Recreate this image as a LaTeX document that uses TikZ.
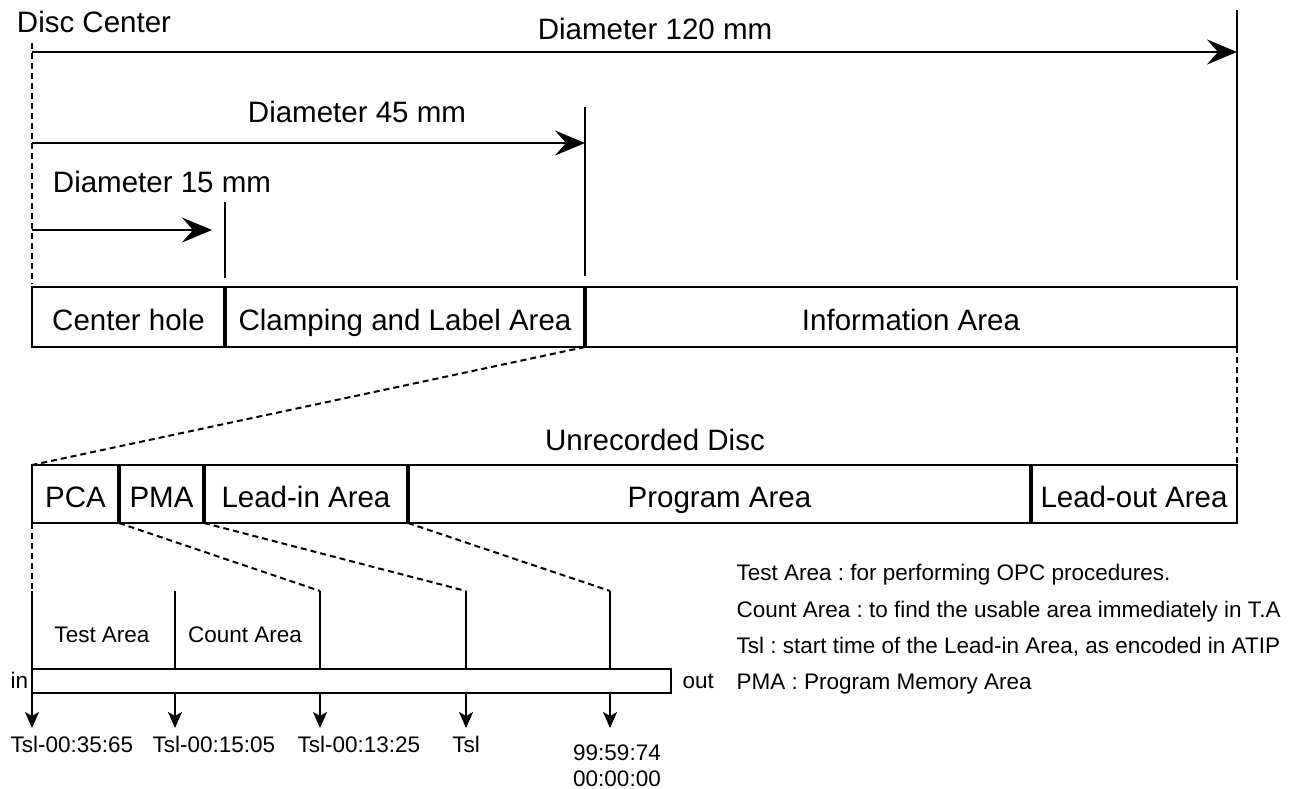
\documentclass[tikz,border=0pt]{standalone}
\usepackage{fontspec}
\setmainfont{Liberation Sans}
\frenchspacing
\usetikzlibrary{arrows.meta}
\tikzset{
  big/.style={font=\fontsize{29.5}{34}\selectfont},
  small/.style={font=\fontsize{22.5}{27}\selectfont},
  seg/.style={draw, line width=2pt, inner sep=0pt, outer sep=0pt, anchor=north west, big,
    text height=26pt, text depth=0pt},
  divider/.style={line width=4pt},
  thinline/.style={line width=2pt},
  guide/.style={line width=2pt, dash pattern=on 6pt off 4pt},
  dimarrow/.style={line width=2.2pt, -{Stealth[length=30pt,width=25pt,inset=11pt]}},
  tarrow/.style={line width=2pt, -{Stealth[length=16pt,width=14pt,inset=4pt]}},
}
\begin{document}
\begin{tikzpicture}[x=1pt, y=-1pt]
  \useasboundingbox (0,0) rectangle (1296,789);

  % diameters
  \node[big, anchor=base] (center) at (94,33) {Disc Center};
  \coordinate (c1) at (32,43);
  \coordinate (c2) at (32,284);
  \draw[guide] (c1) -- (c2);

  \coordinate (v120) at (1237,10);
  \coordinate (v45) at (585,107);
  \coordinate (v15) at (225,202);
  \coordinate (w120) at (1237,280);
  \coordinate (w45) at (585,276);
  \coordinate (w15) at (225,278);
  \draw[thinline] (v120) -- (w120);
  \draw[thinline] (v45) -- (w45);
  \draw[thinline] (v15) -- (w15);

  \coordinate (o120) at (32,52);
  \coordinate (o45) at (32,143);
  \coordinate (o15) at (32,230);
  \coordinate (e15) at (212,230);
  \draw[dimarrow] (o120) -- (v120 |- o120);
  \draw[dimarrow] (o45) -- (v45 |- o45);
  \draw[dimarrow] (o15) -- (e15);

  \node[big, anchor=base] (d120) at (655,40) {Diameter 120 mm};
  \node[big, anchor=base] (d45) at (357,123) {Diameter 45 mm};
  \node[big, anchor=base] (d15) at (162,193) {Diameter 15 mm};

  % whole disc
  \node[seg, minimum width=193pt, minimum height=60pt] (hole) at (32,287) {Center hole};
  \node[seg, minimum width=360pt, minimum height=60pt] (clamp) at (hole.north east) {Clamping and Label Area};
  \node[seg, minimum width=652pt, minimum height=60pt] (info) at (clamp.north east) {Information Area};
  \draw[divider] (hole.north east) -- (hole.south east);
  \draw[divider] (clamp.north east) -- (clamp.south east);

  % unrecorded disc
  \node[big, anchor=base] (unrec) at (655,450) {Unrecorded Disc};
  \node[seg, minimum width=87pt, minimum height=58pt] (pca) at (32,465) {PCA};
  \node[seg, minimum width=85pt, minimum height=58pt] (pma) at (pca.north east) {PMA};
  \node[seg, minimum width=204pt, minimum height=58pt] (leadin) at (pma.north east) {Lead-in Area};
  \node[seg, minimum width=623pt, minimum height=58pt] (program) at (leadin.north east) {Program Area};
  \node[seg, minimum width=206pt, minimum height=58pt] (leadout) at (program.north east) {Lead-out Area};
  \foreach \s in {pca,pma,leadin,program}
    \draw[divider] (\s.north east) -- (\s.south east);

  \draw[guide] (clamp.south east) -- (pca.north west);
  \draw[guide] (info.south east) -- (leadout.north east);

  % lead-in detail
  \node[draw, line width=2pt, inner sep=0pt, outer sep=0pt, anchor=north west,
    minimum width=639pt, minimum height=24pt] (bar) at (32,669) {};
  \foreach \x [count=\i] in {32,175,320,466,610} {
    \coordinate (t\i) at (\x,591);
    \coordinate (e\i) at (\x,728);
    \draw[thinline] (t\i) -- (t\i |- bar.north);
    \draw[tarrow] (t\i |- bar.south) -- (e\i);
  }
  \draw[guide] (pca.south west) -- (t1);
  \draw[guide] (pma.south west) -- (t3);
  \draw[guide] (leadin.south west) -- (t4);
  \draw[guide] (program.south west) -- (t5);

  \node[small, anchor=base] (test) at (102,642) {Test Area};
  \node[small, anchor=base] (count) at (245,642) {Count Area};
  \node[small, anchor=base west] (in) at (7,688) {in};
  \node[small, anchor=base west] (out) at (679,688) {out};

  \node[small, anchor=base west] (l1) at (7,752) {Tsl-00:35:65};
  \node[small, anchor=base west] (l2) at (149,752) {Tsl-00:15:05};
  \node[small, anchor=base west] (l3) at (294,752) {Tsl-00:13:25};
  \node[small, anchor=base] (l4) at (466,752) {Tsl};
  \node[small, anchor=base] (l5) at (617,760) {99:59:74};
  \node[small, anchor=base] (l6) at (617,786) {00:00:00};

  % legend
  \node[small, anchor=base west] (n1) at (733,580) {Test Area : for performing OPC procedures.};
  \node[small, anchor=base west] (n2) at (733,617) {Count Area : to find the usable area immediately in T.A};
  \node[small, anchor=base west] (n3) at (733,653) {Tsl : start time of the Lead-in Area, as encoded in ATIP};
  \node[small, anchor=base west] (n4) at (733,689) {PMA : Program Memory Area};
\end{tikzpicture}
\end{document}
